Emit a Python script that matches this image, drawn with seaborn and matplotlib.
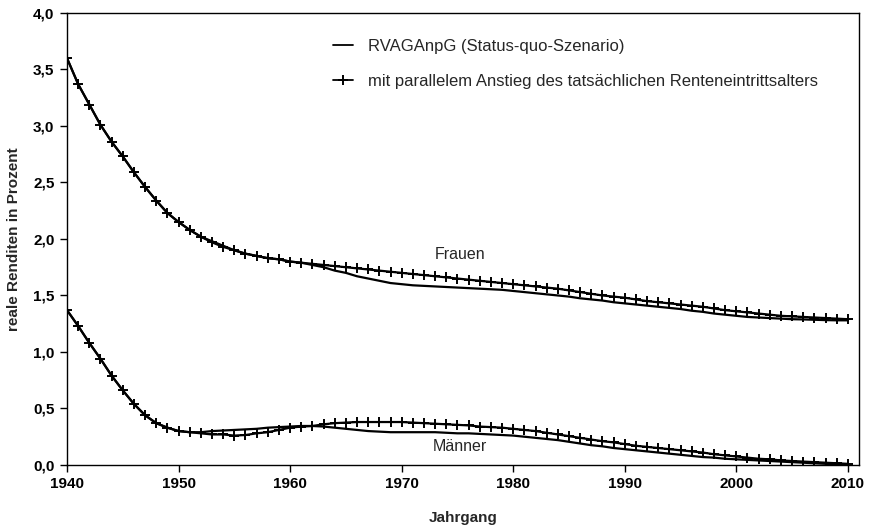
import matplotlib
matplotlib.use("Agg")
import matplotlib.pyplot as plt
import seaborn as sns
from matplotlib.lines import Line2D

# DATEN
jahre = list(range(1940, 2011))

frauen_mit = [
    3.60, 3.37, 3.19, 3.01, 2.86, 2.73, 2.59, 2.46, 2.34, 2.23,
    2.15, 2.08, 2.02, 1.97, 1.93, 1.90, 1.87, 1.85, 1.83, 1.82,
    1.80, 1.79, 1.78, 1.77, 1.76, 1.75, 1.74, 1.73, 1.72, 1.71,
    1.70, 1.69, 1.68, 1.67, 1.66, 1.65, 1.64, 1.63, 1.62, 1.61,
    1.60, 1.59, 1.58, 1.57, 1.56, 1.545, 1.53, 1.515, 1.50, 1.49,
    1.48, 1.465, 1.45, 1.44, 1.43, 1.42, 1.41, 1.40, 1.385, 1.37,
    1.36, 1.35, 1.34, 1.33, 1.32, 1.315, 1.31, 1.305, 1.30, 1.295,
    1.29
]

frauen_sq = [
    3.60, 3.37, 3.19, 3.01, 2.86, 2.73, 2.59, 2.46, 2.34, 2.23,
    2.15, 2.08, 2.02, 1.98, 1.94, 1.90, 1.87, 1.85, 1.83, 1.82,
    1.80, 1.79, 1.77, 1.75, 1.72, 1.70, 1.67, 1.65, 1.63, 1.61,
    1.60, 1.59, 1.585, 1.58, 1.575, 1.57, 1.565, 1.56, 1.555, 1.55,
    1.54, 1.53, 1.52, 1.51, 1.50, 1.49, 1.475, 1.465, 1.455, 1.44,
    1.43, 1.42, 1.41, 1.40, 1.39, 1.38, 1.365, 1.355, 1.34, 1.33,
    1.32, 1.31, 1.305, 1.30, 1.295, 1.29, 1.288, 1.285, 1.282, 1.28,
    1.28
]

maenner_mit = [
    1.37, 1.23, 1.08, 0.94, 0.79, 0.66, 0.54, 0.44, 0.37, 0.33,
    0.30, 0.29, 0.28, 0.27, 0.27, 0.26, 0.265, 0.28, 0.29, 0.31,
    0.33, 0.34, 0.345, 0.36, 0.37, 0.375, 0.38, 0.38, 0.38, 0.38,
    0.38, 0.375, 0.37, 0.365, 0.36, 0.355, 0.35, 0.34, 0.335, 0.33,
    0.32, 0.31, 0.30, 0.285, 0.27, 0.255, 0.24, 0.225, 0.21, 0.20,
    0.185, 0.17, 0.16, 0.15, 0.14, 0.13, 0.12, 0.11, 0.095, 0.085,
    0.075, 0.065, 0.055, 0.05, 0.04, 0.035, 0.03, 0.025, 0.02, 0.015,
    0.01
]

maenner_sq = [
    1.37, 1.23, 1.08, 0.94, 0.79, 0.66, 0.54, 0.44, 0.37, 0.33,
    0.30, 0.29, 0.29, 0.30, 0.305, 0.31, 0.315, 0.32, 0.33, 0.335,
    0.34, 0.345, 0.345, 0.34, 0.33, 0.32, 0.31, 0.30, 0.295, 0.29,
    0.29, 0.29, 0.29, 0.29, 0.285, 0.28, 0.28, 0.275, 0.27, 0.265,
    0.26, 0.25, 0.24, 0.23, 0.22, 0.205, 0.19, 0.175, 0.165, 0.15,
    0.14, 0.13, 0.12, 0.11, 0.10, 0.09, 0.08, 0.07, 0.065, 0.055,
    0.05, 0.045, 0.04, 0.035, 0.03, 0.025, 0.02, 0.015, 0.01, 0.005,
    0.005
]

label_sq = "RVAGAnpG (Status-quo-Szenario)"
label_mit = "mit parallelem Anstieg des tatsächlichen Renteneintrittsalters"

sns.set_style("white")
plt.rcParams["font.family"] = ["Liberation Sans", "DejaVu Sans"]

fig = plt.figure(figsize=(8.77, 5.32), dpi=100)
ax = fig.add_axes([0.0764, 0.126, 0.9031, 0.8496])

# LINIEN
for werte in [frauen_sq, maenner_sq]:
    sns.lineplot(x=jahre, y=werte, ax=ax, color="black", linewidth=1.6)

for werte in [frauen_mit, maenner_mit]:
    sns.lineplot(
        x=jahre, y=werte, ax=ax, color="black", linewidth=1.6,
        marker="+", markersize=6.5, markeredgewidth=1.4,
        markeredgecolor="black"
    )

# ACHSEN
ax.set_xlim(1940, 2011)
ax.set_ylim(0, 4.0)
ax.set_xticks(range(1940, 2011, 10))
ax.set_yticks([0, 0.5, 1.0, 1.5, 2.0, 2.5, 3.0, 3.5, 4.0])
ax.set_yticklabels([f"{v:.1f}".replace(".", ",") for v in ax.get_yticks()])

for spine in ax.spines.values():
    spine.set_visible(True)
    spine.set_color("black")
    spine.set_linewidth(1.0)

ax.tick_params(axis="both", direction="out", length=5, width=1,
               color="black", labelsize=11, pad=4, labelcolor="black")
ax.tick_params(axis="both", which="both", bottom=True, left=True)
for lab in ax.get_xticklabels() + ax.get_yticklabels():
    lab.set_fontweight("bold")

ax.set_xlabel("Jahrgang", fontsize=11, fontweight="bold", labelpad=14)
ax.set_ylabel("reale Renditen in Prozent", fontsize=11, fontweight="bold",
              labelpad=9)

# BESCHRIFTUNGEN
ax.text(1975.2, 1.86, "Frauen", fontsize=11.5, ha="center", va="center")
ax.text(1975.2, 0.16, "Männer", fontsize=11.5, ha="center", va="center")

# LEGENDE
handles = [
    Line2D([], [], color="black", linewidth=1.3),
    Line2D([], [], color="black", linewidth=1.3, marker="+",
           markersize=6.5, markeredgewidth=1.4),
]
ax.legend(
    handles, [label_sq, label_mit],
    loc="upper left", bbox_to_anchor=(0.336, 0.943),
    frameon=False, fontsize=12, handlelength=1.2,
    handletextpad=0.9, labelspacing=1.2, borderpad=0, borderaxespad=0
)

fig.savefig("out.png", dpi=100)
plt.close(fig)
